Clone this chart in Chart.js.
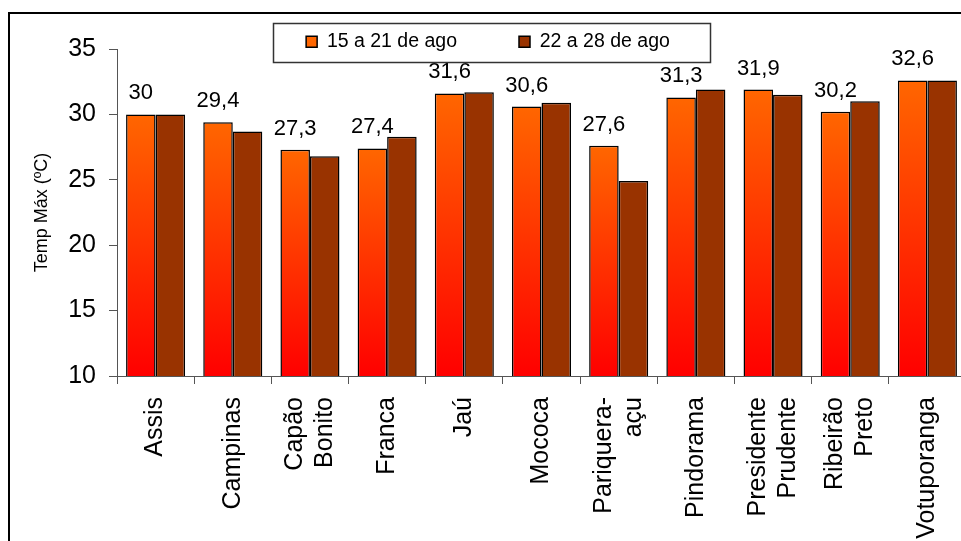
<!DOCTYPE html>
<html>
<head>
<meta charset="utf-8">
<script src="https://cdn.jsdelivr.net/npm/chart.js@4.4.1/dist/chart.umd.min.js"></script>
<style>
html, body { margin: 0; padding: 0; overflow: hidden; background: #fff; }
canvas { display: block; }
</style>
</head>
<body>
<canvas id="tempChart" width="980" height="541"></canvas>
<script>
const stations = ['Assis', 'Campinas', ['Capão', 'Bonito'], 'Franca', 'Jaú', 'Mococa',
    ['Pariquera-', 'açu'], 'Pindorama', ['Presidente', 'Prudente'], ['Ribeirão', 'Preto'], 'Votuporanga'];
const week1 = [30, 29.4, 27.3, 27.4, 31.6, 30.6, 27.6, 31.3, 31.9, 30.2, 32.6];
const week2 = [30, 28.7, 26.8, 28.3, 31.7, 30.9, 24.9, 31.9, 31.5, 31.0, 32.6];
const seriesNames = ['15 a 21 de ago', '22 a 28 de ago'];
const yTicks = [10, 15, 20, 25, 30, 35];

Chart.defaults.font.family = "'Liberation Sans', Arial, sans-serif";
Chart.defaults.color = '#000';

const axisGrey = '#555';

// orange -> red gradient, one per bar
function week1Fill(c) {
    const chart = c.chart;
    const ctx = chart.ctx;
    if (c.type !== 'data') {
        // legend swatch
        const g = ctx.createLinearGradient(0, 36, 0, 47);
        g.addColorStop(0, '#FF6600');
        g.addColorStop(1, '#FF0000');
        return g;
    }
    const area = chart.chartArea;
    const y = chart.scales.y;
    if (!area || !y) return '#FF6600';
    const top = y.getPixelForValue(c.raw);
    const g = ctx.createLinearGradient(0, top, 0, area.bottom);
    g.addColorStop(0, '#FF6600');
    g.addColorStop(1, '#FF0000');
    return g;
}

// page frame
const framePlugin = {
    id: 'frame',
    beforeDraw(chart) {
        const ctx = chart.ctx;
        ctx.save();
        ctx.strokeStyle = '#000';
        ctx.lineWidth = 2;
        ctx.strokeRect(9, 13, 2000, 2000);
        ctx.restore();
    }
};

// legend sits in a bordered box over the top of the plot
const legendBox = { left: 273.5, top: 23.5, width: 437, height: 39 };
const legendPlace = {
    id: 'legendPlace',
    afterLayout(chart) {
        const lg = chart.legend;
        const pad = lg.options.labels.padding;
        lg.left = 236;
        lg.right = 740;
        lg.width = lg.right - lg.left;
        lg.top = 32 - pad;
        lg.bottom = 62;
        lg.height = lg.bottom - lg.top;
    },
    afterDraw(chart) {
        const ctx = chart.ctx;
        ctx.save();
        ctx.strokeStyle = '#333';
        ctx.lineWidth = 1.5;
        ctx.strokeRect(legendBox.left, legendBox.top, legendBox.width, legendBox.height);
        ctx.restore();
    }
};

// center two-line category labels on their tick
const centerLines = {
    id: 'centerLines',
    beforeDraw(chart) {
        const items = chart.scales.x.getLabelItems();
        items.forEach(it => {
            if (Array.isArray(it.label) && !it._moved) {
                it.options.translation[0] -= it.font.lineHeight * (it.label.length - 1) / 2;
                it._moved = true;
            }
        });
    }
};

// values above the first series
const valueLabels = {
    id: 'valueLabels',
    afterDatasetsDraw(chart) {
        const ctx = chart.ctx;
        const meta = chart.getDatasetMeta(0);
        ctx.save();
        ctx.font = "22px 'Liberation Sans', Arial, sans-serif";
        ctx.fillStyle = '#000';
        ctx.textAlign = 'center';
        ctx.textBaseline = 'alphabetic';
        meta.data.forEach((bar, i) => {
            const txt = String(week1[i]).replace('.', ',');
            ctx.fillText(txt, bar.x, bar.y - 15);
        });
        ctx.restore();
    }
};

new Chart(document.getElementById('tempChart'), {
    type: 'bar',
    data: {
        labels: stations,
        datasets: [{
            label: seriesNames[0],
            data: week1,
            backgroundColor: week1Fill,
            borderColor: '#000',
            borderWidth: 1.5
        }, {
            label: seriesNames[1],
            data: week2,
            backgroundColor: '#993300',
            borderColor: '#000',
            borderWidth: 1.5
        }]
    },
    options: {
        responsive: false,
        animation: false,
        events: [],
        layout: { padding: { top: 48, right: 14, left: 0, bottom: 0 } },
        datasets: {
            bar: { categoryPercentage: 0.765, barPercentage: 1 }
        },
        plugins: {
            legend: {
                position: 'top',
                maxHeight: 1,
                labels: {
                    font: { size: 19.5 },
                    color: '#000',
                    boxWidth: 11,
                    boxHeight: 11,
                    padding: 62
                }
            },
            tooltip: { enabled: false }
        },
        scales: {
            x: {
                afterFit(s) { s.height = 165; },
                grid: { drawOnChartArea: false, drawTicks: true, tickLength: 8, color: axisGrey, lineWidth: 1 },
                border: { color: axisGrey, width: 1 },
                ticks: {
                    autoSkip: false,
                    minRotation: 90,
                    maxRotation: 90,
                    padding: 13,
                    color: '#000',
                    font: { size: 25, lineHeight: 1.2 }
                }
            },
            y: {
                min: yTicks[0],
                max: yTicks[yTicks.length - 1],
                afterFit(s) { s.width = 117; },
                grid: { drawOnChartArea: false, drawTicks: true, tickLength: 8, color: axisGrey, lineWidth: 1 },
                border: { color: axisGrey, width: 1 },
                ticks: {
                    stepSize: yTicks[1] - yTicks[0],
                    padding: 13,
                    color: '#000',
                    font: { size: 25 }
                },
                title: {
                    display: true,
                    text: 'Temp Máx (ºC)',
                    color: '#000',
                    font: { size: 18 },
                    padding: { top: 31, bottom: 0 }
                }
            }
        }
    },
    plugins: [framePlugin, legendPlace, centerLines, valueLabels]
});
</script>
</body>
</html>
